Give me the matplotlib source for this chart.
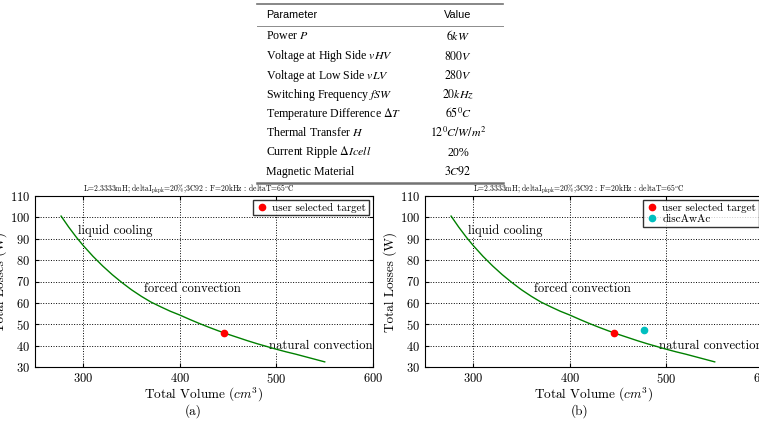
import numpy as np
import matplotlib
matplotlib.use('Agg')
import matplotlib.pyplot as plt
from matplotlib.lines import Line2D

plt.rcParams['font.family'] = 'cmr10'
plt.rcParams['mathtext.fontset'] = 'cm'
plt.rcParams['axes.formatter.use_mathtext'] = True
plt.rcParams['xtick.direction'] = 'in'
plt.rcParams['ytick.direction'] = 'in'
plt.rcParams['xtick.top'] = True
plt.rcParams['ytick.right'] = True

# parameter table
param_names = ['Power $P$', 'Voltage at High Side $vHV$', 'Voltage at Low Side $vLV$',
               'Switching Frequency $fSW$', r'Temperature Difference $\Delta T$',
               'Thermal Transfer $H$', r'Current Ripple $\Delta Icell$', 'Magnetic Material']
param_values = ['$6kW$', '$800V$', '$280V$', '$20kHz$', '$65^0C$',
                '$12^0C/W/m^2$', '20%', '$3C92$']

# pareto front: total volume (cm^3) vs total losses (W)
volume = [277, 285, 293, 300, 310, 320, 330, 340, 350, 360, 370, 380, 390, 400,
          410, 420, 430, 440, 450, 460, 470, 480, 490, 500, 510, 520, 530, 540, 550]
losses = [100.6, 95.4, 90.6, 86.8, 81.8, 77.3, 73.2, 69.5, 66.1, 63.1, 60.4, 58.2, 56.1, 54.3,
          52.3, 50.4, 48.6, 46.9, 45.3, 43.8, 42.3, 40.9, 39.6, 38.3, 37.1, 36.0, 34.8, 33.6, 32.4]

target_vol, target_loss = 446, 45.7
disc_vol, disc_loss = 477, 47.1

regions = ['liquid cooling', 'forced convection', 'natural convection']
region_x = [295, 363, 492]
region_y = [94, 66.5, 40]

title = r'L=2.3333mH; deltaI$_{\rm pkpk}$=20%;3C92 : F=20kHz : deltaT=65$^o$C'

W, H = 759, 421
fig = plt.figure(figsize=(W / 100, H / 100), dpi=100)
fig.patch.set_facecolor('white')

def fx(px):
    return px / W

def fy(py):
    return 1 - py / H

# ---- table ----
fig.add_artist(Line2D([fx(257), fx(503)], [fy(4), fy(4)], color='0.45', lw=1.2))
fig.add_artist(Line2D([fx(257), fx(503)], [fy(26), fy(26)], color='0.55', lw=0.7))
fig.add_artist(Line2D([fx(257), fx(503)], [fy(183), fy(183)], color='0.45', lw=1.8))
fig.text(fx(266), fy(15), 'Parameter', family='Liberation Sans', fontsize=7.8, va='center')
fig.text(fx(458), fy(15), 'Value', family='Liberation Sans', fontsize=7.8, va='center', ha='center')
row_y = [36, 56, 75.5, 95, 113.5, 132.5, 152.5, 171.5]
for name, val, ry in zip(param_names, param_values, row_y):
    fig.text(fx(266), fy(ry), name, family='Liberation Serif', math_fontfamily='stix',
             fontsize=8.6, va='center')
    fig.text(fx(458), fy(ry), val, family='Liberation Serif', math_fontfamily='stix',
             fontsize=8.6, va='center', ha='center')

# ---- charts ----
def make_axes(left_px, show_disc):
    bottom_px, top_px = 367, 196
    ax = fig.add_axes([fx(left_px), fy(bottom_px), 338 / W, (bottom_px - top_px) / H])
    ax.plot(volume, losses, color=(0, 0.5, 0), lw=1, zorder=3)
    ax.plot([target_vol], [target_loss], 'o', color='red', ms=4.5, mec='red',
            label='user selected target', zorder=4)
    if show_disc:
        ax.plot([disc_vol], [disc_loss], 'o', color='c', ms=4.5, mec='c', label='discAwAc',
                zorder=4)
    for txt, tx, ty in zip(regions, region_x, region_y):
        ax.text(tx, ty, txt, fontsize=9.2, va='center', zorder=2,
                bbox=dict(facecolor='white', edgecolor='none', pad=0.3))
    ax.set_xlim(250, 600)
    ax.set_ylim(30, 110)
    ax.set_xticks([300, 400, 500, 600])
    ax.set_yticks(range(30, 111, 10))
    ax.tick_params(labelsize=9, length=3)
    ax.grid(True, color='black', linestyle=':', lw=0.7)
    ax.set_axisbelow(True)
    ax.set_xlabel('Total Volume ($cm^3$)', fontsize=9.5, labelpad=0)
    ax.set_ylabel('Total Losses (W)', fontsize=9.5, labelpad=2)
    ax.text(0.455, 1.045, title, transform=ax.transAxes, fontsize=5.5, ha='center', va='center')
    leg = ax.legend(loc='upper right', numpoints=1, fontsize=8, fancybox=False,
                    borderpad=0.25, handletextpad=0.3, handlelength=1.2, labelspacing=0.15,
                    borderaxespad=0.35)
    leg.get_frame().set_edgecolor('black')
    leg.get_frame().set_linewidth(1)
    return ax

ax1 = make_axes(35, False)
ax2 = make_axes(425, True)

fig.text(fx(193), fy(411.5), '(a)', fontsize=9.5, ha='center', va='center')
fig.text(fx(580), fy(411.5), '(b)', fontsize=9.5, ha='center', va='center')

fig.savefig('out.png', dpi=100, facecolor='white')
